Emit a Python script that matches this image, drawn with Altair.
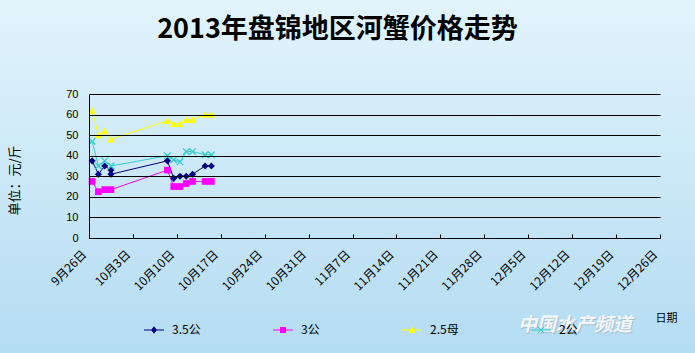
import altair as alt
import pandas as pd

# ---------------- data ----------------
series_names = ["3.5公", "3公", "2.5母", "2公"]
series_colors = ["#000080", "#FF00FF", "#FFFF00", "#33CCCC"]

dates_35gong = ["09-26", "09-27", "09-28", "09-29", "09-29", "10-08", "10-09", "10-10", "10-11", "10-12", "10-14", "10-15"]
vals_35gong = [37.5, 31, 35, 33, 31, 37.5, 29, 30, 30, 31, 35, 35]

dates_other = ["09-26", "09-27", "09-28", "09-29", "10-08", "10-09", "10-10", "10-11", "10-12", "10-14", "10-15"]
vals_3gong = [27.5, 22.5, 23.5, 23.5, 33, 25, 25, 26.5, 27.5, 27.5, 27.5]
vals_25mu = [62, 50, 52, 48, 57, 55.5, 55.5, 57.5, 57.5, 60, 60]
vals_2gong = [47, 35, 37.5, 35, 40, 38, 37, 42, 42, 40.5, 40.5]

tick_dates = ["09-26", "10-03", "10-10", "10-17", "10-24", "10-31", "11-07",
              "11-14", "11-21", "11-28", "12-05", "12-12", "12-19", "12-26"]
y_ticks = [0, 10, 20, 30, 40, 50, 60, 70]

title_text = "2013年盘锦地区河蟹价格走势"
y_title = "单位：元/斤"
x_title = "日期"

# ---------------- table ----------------
rows = []
for name, ds, vs in [
    ("3.5公", dates_35gong, vals_35gong),
    ("3公", dates_other, vals_3gong),
    ("2.5母", dates_other, vals_25mu),
    ("2公", dates_other, vals_2gong),
]:
    for i, (d, v) in enumerate(zip(ds, vs)):
        # Excel date axis puts each point in the middle of its day
        rows.append({"series": name, "t": f"2013-{d}T12:00:00", "v": v, "ord": i})
df = pd.DataFrame(rows)

def dt(md):
    m, d = md.split("-")
    return alt.DateTime(year=2013, month=int(m), date=int(d))

x_enc = alt.X(
    "t:T",
    scale=alt.Scale(domain=[dt("09-26"), dt("12-26")]),
    axis=alt.Axis(
        values=[dt(d) for d in tick_dates],
        labelExpr="(month(datum.value)+1) + '月' + date(datum.value) + '日'",
        labelAngle=315,
        labelAlign="right",
        labelBaseline="middle",
        labelFontSize=12,
        labelColor="black",
        labelFont="Noto Sans CJK SC",
        labelPadding=18,
        labelOffset=-5,
        labelOverlap=False,
        tickColor="black",
        tickSize=alt.ExprRef(expr="-4"),
        domainColor="black",
        grid=False,
        zindex=1,
        title=x_title,
        titleFontSize=11,
        titleFontWeight="normal",
        titleFont="Noto Sans CJK SC",
        titleColor="black",
        titleAnchor="start",
        titleAlign="left",
        titleBaseline="middle",
        titleX=566,
        titleY=80,
    ),
)
y_enc = alt.Y(
    "v:Q",
    scale=alt.Scale(domain=[0, 70], nice=False),
    axis=alt.Axis(
        values=y_ticks,
        tickCount=8,
        grid=True,
        gridColor="black",
        gridOpacity=1,
        gridWidth=1,
        ticks=False,
        domainColor="black",
        zindex=1,
        labelFontSize=11,
        labelColor="black",
        labelFont="Arial",
        labelPadding=11,
        labelOverlap=False,
        title=y_title,
        titleFontSize=13,
        titleFontWeight="normal",
        titleFont="Noto Sans CJK SC",
        titleColor="black",
        titleAngle=270,
        titleX=-75,
        titleY=86,
        titleAlign="center",
        titleBaseline="middle",
    ),
)

color_scale = alt.Scale(domain=series_names, range=series_colors)

# background gradient covering the whole page
bg = alt.Chart(pd.DataFrame({"a": [0]})).mark_rect(
    color=alt.Gradient(
        gradient="linear",
        stops=[alt.GradientStop(color="#E2F4FC", offset=0),
               alt.GradientStop(color="#B4DCF2", offset=1)],
        x1=0, x2=0, y1=0, y2=1,
    )
).encode(x=alt.value(-89), x2=alt.value(606), y=alt.value(-94), y2=alt.value(259))

base = alt.Chart(df)

x_marker = ("M-1,-0.75L-0.75,-1L0,-0.25L0.75,-1L1,-0.75L0.25,0L1,0.75L0.75,1"
            "L0,0.25L-0.75,1L-1,0.75L-0.25,0Z")
marker_shapes = ["diamond", "square", "triangle-up", x_marker]
marker_sizes = [50, 45, 55, 55]

line_layers = []
point_layers = []
for name, col, shp, sz in zip(series_names, series_colors, marker_shapes, marker_sizes):
    sub = base.transform_filter(alt.datum.series == name)
    line_layers.append(
        sub.mark_line(strokeWidth=1, color=col).encode(x=x_enc, y=y_enc, order="ord:Q")
    )
    point_layers.append(
        sub.mark_point(filled=True, size=sz, opacity=1, shape=shp, color=col)
        .encode(x=x_enc, y=y_enc)
    )

# legend-only layer (no data drawn): line-with-marker symbols
bar = "M-1,-0.05H1V0.05H-1Z"
leg_shapes = [
    bar + "M0,-0.38L0.3,0L0,0.38L-0.3,0Z",
    bar + "M-0.3,-0.3H0.3V0.3H-0.3Z",
    bar + "M0,-0.38L0.35,0.3H-0.35Z",
    bar + "M-0.35,-0.28L-0.28,-0.35L0,-0.07L0.28,-0.35L0.35,-0.28L0.07,0L0.35,0.28L0.28,0.35"
          "L0,0.07L-0.28,0.35L-0.35,0.28L-0.07,0Z",
]
legend_layer = base.transform_filter(alt.datum.v < -1000).mark_point(filled=True, opacity=1).encode(
    x=x_enc, y=y_enc,
    color=alt.Color("series:N", scale=color_scale,
                    legend=alt.Legend(title=None, orient="none", direction="horizontal",
                                      legendX=55, legendY=226, symbolSize=400,
                                      labelFontSize=12, labelFont="Noto Sans CJK SC",
                                      labelColor="black", columnPadding=72,
                                      gridAlign="all", labelOffset=8,
                                      symbolStrokeWidth=0, zindex=1)),
    shape=alt.Shape("series:N", scale=alt.Scale(domain=series_names, range=leg_shapes)),
)

# watermark
wm_shadow = alt.Chart(pd.DataFrame({"a": [0]})).mark_text(
    text="中国水产频道", fontSize=19, fontWeight="bold", fontStyle="italic",
    font="Noto Sans CJK SC", color="#9AAAB5", align="left", baseline="middle", opacity=0.6
).encode(x=alt.value(430), y=alt.value(232))
wm = alt.Chart(pd.DataFrame({"a": [0]})).mark_text(
    text="中国水产频道", fontSize=19, fontWeight="bold", fontStyle="italic",
    font="Noto Sans CJK SC", color="#FFFFFF", align="left", baseline="middle", opacity=0.85
).encode(x=alt.value(429), y=alt.value(231))

chart = alt.layer(bg, legend_layer, *line_layers, *point_layers, wm_shadow, wm).properties(
    width=571,
    height=144,
    autosize=alt.AutoSizeParams(type="none"),
    padding={"left": 89, "top": 94, "right": 35, "bottom": 115},
    title=alt.TitleParams(title_text, fontSize=27, font="Noto Sans CJK SC",
                          fontWeight="bold", color="black", anchor="middle",
                          dx=-37, offset=-44, zindex=1),
    background="#CDE8F7",
).configure_view(stroke=None)

chart.save("out.html", embed_options={"renderer": "svg", "actions": False})
